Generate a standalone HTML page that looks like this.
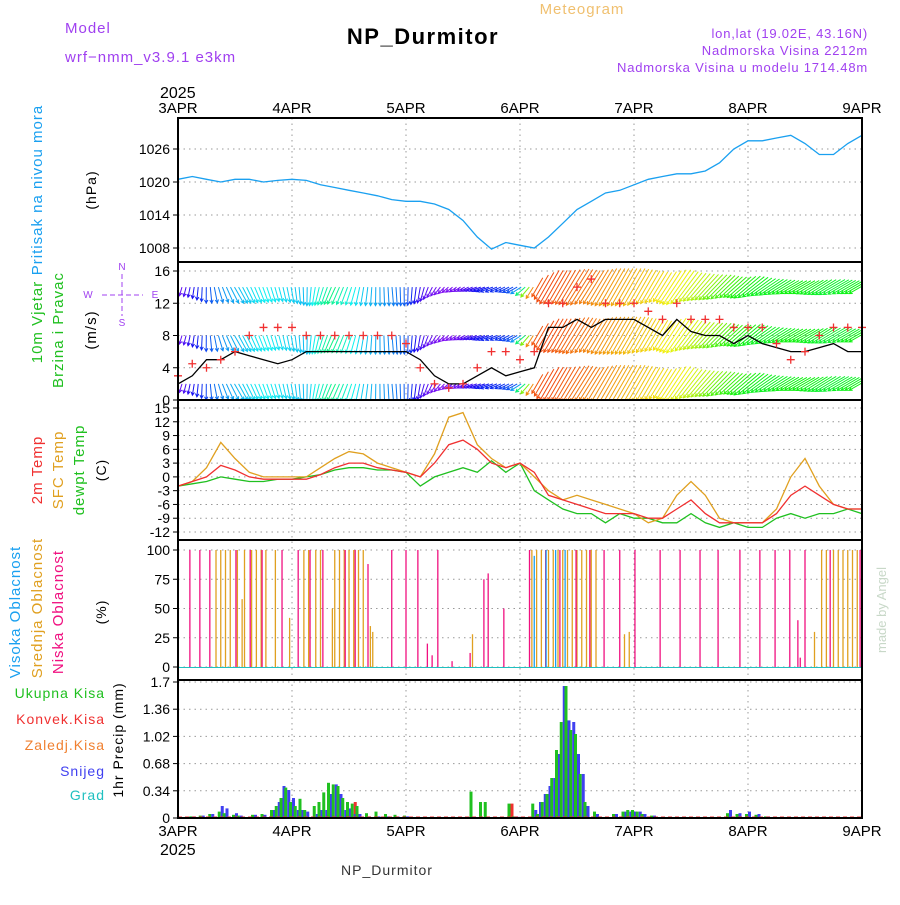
<!DOCTYPE html>
<html><head><meta charset="utf-8">
<style>
body{margin:0;background:#fff;width:900px;height:900px;overflow:hidden}
svg text{font-family:"Liberation Sans",sans-serif}
</style></head>
<body>
<svg id="c" width="900" height="900" xmlns="http://www.w3.org/2000/svg">
<defs><clipPath id="wclip"><rect x="178" y="262" width="684" height="138"/></clipPath></defs>
<text x="65" y="33" fill="#a040f0" font-size="15" letter-spacing="1">Model</text>
<text x="65" y="62" fill="#a040f0" font-size="15" letter-spacing="1">wrf−nmm_v3.9.1  e3km</text>
<text x="423" y="44" fill="#000" font-size="22" font-weight="bold" letter-spacing="1.5" text-anchor="middle">NP_Durmitor</text>
<text x="582" y="14" fill="#f0c070" font-size="15" letter-spacing="1" text-anchor="middle">Meteogram</text>
<text x="868" y="38" fill="#a040f0" font-size="13" letter-spacing="0.8" text-anchor="end">lon,lat (19.02E, 43.16N)</text>
<text x="868" y="55" fill="#a040f0" font-size="13" letter-spacing="0.8" text-anchor="end">Nadmorska Visina 2212m</text>
<text x="868" y="72" fill="#a040f0" font-size="13" letter-spacing="0.8" text-anchor="end">Nadmorska Visina u modelu 1714.48m</text>
<text x="160" y="98" font-size="16">2025</text>
<text x="160" y="855" font-size="16">2025</text>
<text x="387" y="875" font-size="14" letter-spacing="1" text-anchor="middle" fill="#333">NP_Durmitor</text>
<text transform="translate(886,610) rotate(-90)" font-size="13" fill="#c8d8c8" text-anchor="middle">made by Angel</text>
<g id="g"></g>
</svg>
<script>
// ---- data (3-hourly from 3APR 00z to 9APR 00z) ----
const days=['3APR','4APR','5APR','6APR','7APR','8APR','9APR'];
const pressure=[1020.5,1021,1020.5,1020,1020.5,1020.5,1020,1020.3,1020.5,1020.3,1019.5,1019,1018.5,1018,1017.5,1016.8,1016.5,1016.5,1016,1015,1013,1010,1007.8,1009,1008.5,1008,1010,1012.5,1015,1016.5,1018,1018.5,1019.5,1020.5,1021,1021.5,1021.5,1022,1023.5,1026,1027.5,1027.5,1028,1028.5,1027,1025,1025,1027,1028.5];
const temp2m=[-2,-1,0,2.5,1.5,0,-0.5,-0.5,-0.5,-0.5,0.5,2,3,3,2,1.5,1,0,3,7,8,6,3,2,3,1,-4,-5,-6,-7,-8,-8,-8,-9,-9,-7,-5,-8,-10,-10,-10,-10,-8,-4,-2,-4,-6,-7,-7];
const tempSfc=[-2,-1,2,7.5,4,1,0,0,0,0,2,4,5.5,5,3,2,1,0,5,13,14,7,4,2,3,0,-3,-5,-4,-5,-6,-7,-8,-10,-9,-4,-1,-4,-9,-10,-10,-10,-7,0,4,-2,-6,-7,-7];
const dewpt=[-2,-1.5,-1,0,-0.5,-1,-1,-0.5,-0.5,0,0.5,1.5,2,2,1.5,1.5,1,-2,0,1,2,1,3.5,1,3,-3,-5,-7,-8,-8,-10,-8,-9,-9,-10,-10,-8,-10,-11,-10,-11,-11,-9,-8,-9,-8,-8,-7,-8];
const windSpeed=[2,3,5,5,6,5.5,5,4.5,5,6,6,6,6,6,6,6,6,5,3,2,2,3,4,3,3.5,4,9,9,10,9,10,10,10,9,8,10,8.5,8,8,7,8,7,6.5,6,6,6.5,7,6,6];
const windGust=[3,4.5,4,5,6,8,9,9,9,8,8,8,8,8,8,8,7,4,2,1.5,2,4,6,6,5,6,12,12,14,15,12,12,12,11,10,12,10,10,10,9,9,9,7,5,6,8,9,9,9];
// direction the arrow points (math degrees)
const windDir=[250,260,270,290,300,295,290,285,280,270,255,245,250,260,270,275,270,260,240,220,210,200,200,205,210,240,240,240,238,238,240,240,240,240,238,236,232,228,225,222,220,215,212,210,210,212,210,210,210];
const windHue=[270,245,225,205,195,185,180,185,190,195,170,150,170,190,200,210,220,250,265,270,265,250,235,230,220,20,15,20,25,30,35,40,45,50,55,60,70,80,100,110,120,125,125,120,120,125,130,125,120];
// clouds: [hour, percent]
const cloudLow=[[2.5,100],[4.6,100],[6.7,100],[12.2,100],[15.2,100],[17.7,100],[21.9,100],[25.3,100],[27.8,100],[30.5,100],[35.2,100],[37.3,100],[40,88],[45,100],[48,100],[50.5,100],[54.7,100],[52.5,20],[53.5,10],[57.7,5],[61.5,12],[64.4,75],[65.3,80],[68.6,50],[74,100],[77.4,100],[80.4,100],[83.8,100],[86.7,100],[89.7,100],[93,100],[96.2,100],[101.5,100],[105.7,100],[109.9,100],[113.7,100],[118.3,100],[122.5,100],[125.7,100],[128.8,100],[130.5,40],[131,8],[132,100],[137.3,100],[143.6,100]];
const cloudMid=[[8,100],[9,100],[10,100],[11,100],[12.5,100],[13.5,58],[14,100],[15.5,100],[16.5,100],[17.5,100],[18.5,100],[20.5,100],[23.5,42],[26.5,100],[27.5,100],[29,100],[30,100],[32.5,50],[33,100],[34,100],[35,100],[36,100],[37,100],[38,100],[39,100],[40.5,35],[41,30],[62,28],[74.5,100],[75.5,100],[76.5,100],[78,100],[79,100],[80,100],[81,100],[82,100],[83,100],[84,100],[85,100],[86,100],[87,100],[88,100],[94,28],[95,30],[134,30],[135.5,100],[136.5,100],[138,100],[139,100],[140,100],[141,100],[142,100],[143,100]];
const cloudHigh=[[75,95],[77.5,100],[79.5,100],[81.5,100]];
// precipitation: [hour, total, convective, snow]
const precip=[[3,0.02,0,0.02],[5,0.03,0,0.03],[7,0.05,0,0.05],[9,0.08,0,0.15],[10,0.06,0,0.12],[12,0.04,0,0.06],[13,0.03,0,0.03],[16,0.04,0,0.04],[18,0.05,0,0.04],[20,0.1,0,0.1],[21,0.15,0,0.2],[22,0.25,0,0.4],[23,0.38,0,0.35],[24,0.2,0,0.25],[25,0.15,0,0.1],[26,0.24,0,0.1],[27,0.1,0,0.08],[29,0.15,0,0.05],[30,0.2,0,0.1],[31,0.32,0,0.1],[32,0.44,0,0.3],[33,0.42,0,0.42],[34,0.4,0,0.3],[35,0.25,0,0.1],[36,0.2,0,0.12],[37,0.18,0.2,0.05],[38,0.15,0,0.05],[40,0.06,0,0.02],[42,0.08,0,0.02],[44,0.05,0,0.02],[46,0.04,0,0.02],[48,0.03,0,0.02],[62,0.33,0,0],[64,0.2,0,0],[65,0.2,0,0],[70,0.18,0.18,0],[71,0.02,0,0.02],[75,0.18,0,0.1],[76,0.05,0,0.2],[77,0.2,0,0.3],[78,0.3,0,0.4],[79,0.5,0,0.5],[80,0.85,0,0.8],[81,1.2,0,1.65],[82,1.65,0,1.22],[83,1.1,0,1.2],[84,1.05,0,0.8],[85,0.55,0,0.55],[86,0.2,0,0.15],[88,0.08,0,0.05],[92,0.05,0,0.05],[94,0.08,0,0.08],[95,0.1,0,0.08],[96,0.1,0,0.08],[97,0.08,0,0.08],[98,0.05,0,0.05],[100,0.03,0,0.03],[116,0.06,0,0.1],[118,0.05,0,0.06],[120,0.05,0,0.08],[122,0.04,0,0.05],[124,0.02,0,0.02]];

// ---- axes ----
const X0=178,X1=862;
const xh=h=>X0+(X1-X0)*h/144;
const yP=p=>248-(p-1008)*5.5;
const yW=v=>400-v*(129/16);
const yT=t=>408+(15-t)*(124/27);
const yC=c=>667-c*1.17;
const yR=r=>818-r*(136/1.7);
const NS='http://www.w3.org/2000/svg';
const G=document.getElementById('g');
function el(tag,attrs,parent){const e=document.createElementNS(NS,tag);for(const k in attrs)e.setAttribute(k,attrs[k]);(parent||G).appendChild(e);return e;}
function txt(x,y,s,attrs){const e=el('text',Object.assign({x:x,y:y},attrs||{}));e.textContent=s;return e;}

const panels=[[118,262],[262,400],[400,540],[540,680],[680,818]];
const pnames=['pressure-panel','wind-panel','temperature-panel','cloud-panel','precip-panel'];
days.forEach((d,i)=>{const x=xh(i*24);
 const l=el('line',{x1:x,x2:x,y1:118,y2:818,stroke:'#999','stroke-dasharray':'1.5,4'});
 
 
 const t=txt(x,113,d,{'font-size':15,'text-anchor':'middle'});
 
 
 const b=txt(x,836,d,{'font-size':15,'text-anchor':'middle'});
 
 
});
function yticks(vals,fy,fmt,name){vals.forEach(v=>{const y=fy(v);
 const l=el('line',{x1:X0,x2:X1,y1:y,y2:y,stroke:'#999','stroke-dasharray':'1.5,4'});
 
 
 el('line',{x1:X0-5,x2:X0,y1:y,y2:y,stroke:'#000'});
 const t=txt(X0-8,y+5,fmt(v),{'font-size':14,'text-anchor':'end'});
 
 
});}
yticks([1008,1014,1020,1026],yP,v=>v,'pressure');
yticks([0,4,8,12,16],yW,v=>v,'wind');
yticks([-12,-9,-6,-3,0,3,6,9,12,15],yT,v=>v,'temp');
yticks([0,25,50,75,100],yC,v=>v,'cloud');
yticks([0,0.34,0.68,1.02,1.36,1.7],yR,v=>v,'precip');

function vlab(x,y,s,color,size,name){const t=el('text',{transform:`translate(${x},${y}) rotate(-90)`,'text-anchor':'middle','font-size':size||14,fill:color,'letter-spacing':1});t.textContent=s;
 
 }
vlab(42,190,'Pritisak na nivou mora','#1aa0f0',15,'pressure-title');
vlab(96,190,'(hPa)','#000',14,'pressure-unit');
vlab(42,322,'10m Vjetar','#20c020',15,'wind-title-1');
vlab(63,330,'Brzina i Pravac','#20c020',15,'wind-title-2');
vlab(96,330,'(m/s)','#000',15,'wind-unit');
vlab(42,470,'2m Temp','#f03030',15,'temp2m-title');
vlab(63,470,'SFC Temp','#e0a020',15,'sfc-title');
vlab(84,470,'dewpt Temp','#20c020',15,'dewpt-title');
vlab(106,470,'(C)','#000',14,'temp-unit');
vlab(20,612,'Visoka Oblacnost','#1aa0f0',15,'high-cloud-title');
vlab(42,608,'Srednja Oblacnost','#e0a020',15,'mid-cloud-title');
vlab(63,612,'Niska Oblacnost','#f01080',15,'low-cloud-title');
vlab(106,612,'(%)','#000',14,'cloud-unit');
vlab(123,740,'1hr Precip (mm)','#000',14,'precip-unit');
[['Ukupna Kisa','#20c020',698],['Konvek.Kisa','#f03030',724],['Zaledj.Kisa','#f08030',750],['Snijeg','#4040f0',776],['Grad','#20c0c0',800]].forEach(a=>{
 const t=txt(105,a[2],a[0],{'font-size':14,'text-anchor':'end',fill:a[1],'letter-spacing':1});
 
 
});
// compass
txt(122,270,'N',{fill:'#a040f0','font-size':10,'text-anchor':'middle'});
txt(122,326,'S',{fill:'#a040f0','font-size':10,'text-anchor':'middle'});
txt(88,298,'W',{fill:'#a040f0','font-size':10,'text-anchor':'middle'});
txt(155,298,'E',{fill:'#a040f0','font-size':10,'text-anchor':'middle'});
el('line',{x1:102,x2:143,y1:295,y2:295,stroke:'#a040f0','stroke-dasharray':'5,3'});
el('line',{x1:122,x2:122,y1:274,y2:316,stroke:'#a040f0','stroke-dasharray':'5,3'});

const hours=pressure.map((_,i)=>i*3);
function series(arr,fy,color,name,w){const d=arr.map((v,i)=>(i?'L':'M')+xh(hours[i]).toFixed(1)+','+fy(v).toFixed(1)).join('');
 const p=el('path',{d:d,fill:'none',stroke:color,'stroke-width':w||1.3});
 
 }
series(pressure,yP,'#1aa0f0','pressure-line');

// wind arrows
const WG=el('g',{'clip-path':'url(#wclip)'});
function lerp(a,h){const i=Math.min(Math.floor(h/3),a.length-2),f=h/3-i;return a[i]+(a[i+1]-a[i])*f;}
for(let h=0;h<=144;h+=0.85){
 const dir=lerp(windDir,h),hue=lerp(windHue,h),sp=lerp(windSpeed,h);
 const rad=dir*Math.PI/180;
 const late=h>=75;
 const len=late?sp*4.3:sp*2.6+3;
 const rows=late?[2,8,14,20]:[2,8,14];
 rows.forEach(r=>{const bx=xh(h),by=yW(r);
  const dx=Math.cos(rad)*len,dy=-Math.sin(rad)*len;
  const x1=late?bx-dx/2:bx,y1=late?by-dy/2:by;
  const x2=x1+dx,y2=y1+dy;
  const hr=Math.atan2(y2-y1,x2-x1);
  const col=`hsl(${hue},90%,50%)`;
  const d=`M${x1.toFixed(1)},${y1.toFixed(1)}L${x2.toFixed(1)},${y2.toFixed(1)}M${(x2-3.5*Math.cos(hr-0.5)).toFixed(1)},${(y2-3.5*Math.sin(hr-0.5)).toFixed(1)}L${x2.toFixed(1)},${y2.toFixed(1)}L${(x2-3.5*Math.cos(hr+0.5)).toFixed(1)},${(y2-3.5*Math.sin(hr+0.5)).toFixed(1)}`;
  const a=el('path',{d:d,stroke:col,'stroke-width':1,fill:'none'},WG);
  
  });
}
series(windSpeed,yW,'#000','wind-speed-line');
windGust.forEach((g,i)=>{const x=xh(hours[i]),y=yW(g);
 const p=el('path',{d:`M${x-4},${y}h8M${x},${y-4}v8`,stroke:'#f03030','stroke-width':1.3});
 
 });

series(dewpt,yT,'#20c020','dewpoint-line');
series(tempSfc,yT,'#e0a020','sfc-temp-line');
series(temp2m,yT,'#f03030','temp-2m-line');

function bars(arr,color,name){arr.forEach(c=>{const x=xh(c[0]);
 const l=el('line',{x1:x,x2:x,y1:yC(0),y2:yC(c[1]),stroke:color,'stroke-width':1.3});
 
 });}
bars(cloudMid,'#e0a020','mid-cloud-bar');
bars(cloudLow,'#f01080','low-cloud-bar');
bars(cloudHigh,'#1aa0f0','high-cloud-bar');
el('line',{x1:X0,x2:X1,y1:yC(0)+0.5,y2:yC(0)+0.5,stroke:'#20c0c0'});

precip.forEach(p=>{const x=xh(p[0]);
 [[p[1],'#20c020',-3,'precip-total-bar'],[p[2],'#f03030',0,'precip-conv-bar'],[p[3],'#4040f0',0,'precip-snow-bar']].forEach(b=>{
  if(b[0]<=0)return;
  const r=el('rect',{x:x+b[2],y:yR(b[0]),width:3,height:818-yR(b[0]),fill:b[1]});
  
  });
});
el('line',{x1:X0,x2:X1,y1:817,y2:817,stroke:'#f03030','stroke-dasharray':'4,3'});

panels.forEach((p,i)=>{const r=el('rect',{x:X0,y:p[0],width:X1-X0,height:p[1]-p[0],fill:'none',stroke:'#000','stroke-width':2});
 
 });
</script>
</body></html>
